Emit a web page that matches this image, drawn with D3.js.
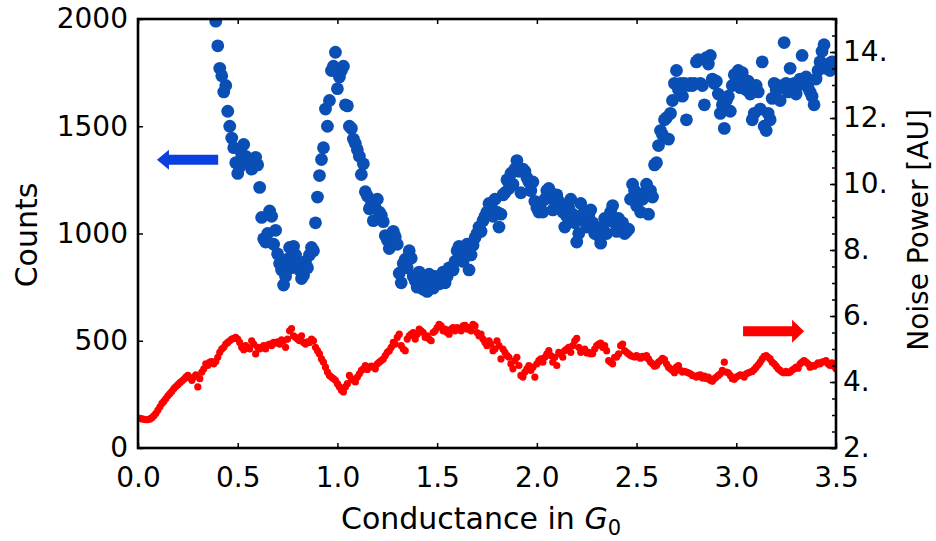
<!DOCTYPE html>
<html><head><meta charset="utf-8">
<script src="https://cdn.jsdelivr.net/npm/d3@7/dist/d3.min.js"></script>
<style>body{margin:0;background:#fff} svg{display:block}</style>
</head><body><svg id="c" width="936" height="541"></svg>
<script>
// ---- data ----
const countsStart = 0.39, countsStep = 0.01;
const counts = [
 1990,1875,1770,1735,1660,1690,1570,1500,1445,1400,
 1330,1280,1310,1370,1415,1360,1350,1330,1300,1340,
 1355,1320,1215,1075,975,960,1000,1105,1080,950,
 1015,905,860,830,760,800,880,935,840,940,
 900,860,830,790,805,870,840,900,935,920,
 1050,1170,1270,1345,1400,1580,1500,1620,1760,1780,
 1845,1675,1730,1760,1780,1600,1595,1500,1490,1440,
 1420,1390,1360,1275,1325,1195,1175,1115,1150,1060,
 1120,1160,1100,1085,1055,990,970,930,985,1010,
 985,950,815,770,860,880,840,920,885,800,
 780,750,820,760,740,790,730,810,780,745,
 800,770,765,790,820,770,800,840,830,830,
 870,920,940,890,870,900,950,830,900,945,
 980,1000,1030,1010,1060,1080,1100,1140,1130,1080,
 1160,1100,1030,1090,1180,1190,1250,1210,1280,1230,
 1300,1340,1290,1190,1300,1290,1260,1240,1200,1240,
 1150,1120,1100,1140,1100,1160,1200,1210,1190,1110,
 1150,1180,1150,1120,1100,1030,1080,1120,1160,1090,
 1050,960,1000,1140,1090,1060,1030,1080,1110,1050,
 1000,1020,990,955,1030,1070,1000,1060,1100,1130,
 1050,1010,1070,1040,1050,1000,1010,1020,1160,1230,
 1200,1130,1150,1100,1160,1190,1230,1090,1200,1170,
 1320,1330,1410,1480,1460,1530,1540,1440,1560,1620,
 1700,1760,1670,1700,1640,1700,1530,1690,1700,1690,
 1700,1800,1810,1700,1690,1600,1820,1790,1830,1720,
 1700,1710,1650,1560,1600,1490,1620,1640,1570,1690,
 1740,1700,1760,1680,1750,1700,1670,1710,1650,1530,
 1560,1690,1660,1580,1800,1500,1480,1560,1530,1630,
 1700,1670,1690,1620,1680,1890,1700,1660,1770,1680,
 1700,1650,1690,1720,1830,1700,1730,1680,1660,1640,
 1600,1720,1760,1800,1850,1880,1770,1790,1760,1800
];
const noiseStart = 0.00, noiseStep = 0.01;
const noise = [
 2.90,2.90,2.88,2.87,2.86,2.86,2.88,2.92,2.98,3.05,
 3.15,3.25,3.35,3.42,3.50,3.58,3.65,3.72,3.80,3.86,
 3.92,3.98,4.03,4.08,4.15,4.20,4.12,4.05,4.15,4.22,
 3.85,4.10,4.30,4.40,4.55,4.50,4.60,4.62,4.55,4.62,
 4.75,4.90,5.00,5.05,5.15,5.20,5.25,5.30,5.32,5.35,
 5.30,5.20,5.05,4.98,5.10,5.05,5.00,5.25,5.15,4.85,
 5.05,5.00,5.05,5.10,5.00,5.12,5.15,5.10,5.20,5.18,
 5.22,5.15,5.28,5.25,5.05,5.30,5.55,5.62,5.40,5.35,
 5.30,5.25,5.40,5.20,5.15,5.22,5.20,5.30,5.25,5.05,
 4.95,4.85,4.70,4.60,4.45,4.30,4.20,4.15,4.10,4.05,
 3.95,3.85,3.75,3.70,3.85,3.95,4.20,4.10,4.05,4.00,
 4.15,4.25,4.35,4.40,4.50,4.38,4.45,4.48,4.46,4.40,
 4.55,4.60,4.65,4.70,4.80,4.90,4.95,5.05,5.20,5.15,
 5.35,5.45,5.10,5.00,4.95,5.30,5.40,5.45,5.50,5.30,
 5.45,5.60,5.55,5.50,5.35,5.40,5.30,5.25,5.50,5.55,
 5.65,5.75,5.70,5.55,5.60,5.50,5.45,5.60,5.65,5.55,
 5.65,5.60,5.55,5.70,5.72,5.60,5.65,5.55,5.75,5.70,
 5.50,5.40,5.45,5.30,5.20,5.10,5.25,5.15,4.95,5.00,
 5.25,5.10,4.70,5.00,4.90,4.80,4.75,4.55,4.40,4.65,
 4.75,4.50,4.20,4.15,4.30,4.40,4.50,4.35,4.45,4.15,
 4.55,4.65,4.70,4.60,4.75,4.85,4.95,4.80,4.60,4.75,
 4.50,4.90,4.85,4.75,4.95,5.00,5.05,4.90,5.10,5.25,
 5.32,5.05,4.90,4.95,5.00,4.88,4.90,4.85,4.86,5.00,
 5.10,5.15,5.18,5.05,5.10,4.95,4.65,4.60,4.55,4.75,
 4.76,4.85,5.10,5.15,4.95,4.90,4.85,4.80,4.78,4.76,
 4.80,4.76,4.72,4.78,4.75,4.80,4.70,4.60,4.55,4.48,
 4.50,4.60,4.65,4.72,4.68,4.55,4.45,4.40,4.35,4.28,
 4.45,4.50,4.35,4.30,4.32,4.30,4.28,4.25,4.20,4.18,
 4.15,4.20,4.22,4.12,4.18,4.10,4.15,4.05,4.02,4.10,
 4.15,4.20,4.25,4.35,4.60,4.30,4.28,4.20,4.10,4.08,
 4.15,4.18,4.22,4.20,4.15,4.25,4.28,4.30,4.32,4.38,
 4.45,4.52,4.60,4.70,4.78,4.80,4.75,4.70,4.60,4.55,
 4.48,4.40,4.35,4.30,4.28,4.32,4.28,4.30,4.36,4.40,
 4.45,4.42,4.55,4.60,4.65,4.60,4.55,4.45,4.50,4.48,
 4.52,4.58,4.55,4.60,4.62,4.65,4.55,4.50,4.58,4.48,
 4.40
];
const xTicks = [0, 0.5, 1, 1.5, 2, 2.5, 3, 3.5];
const countTicks = [0, 500, 1000, 1500, 2000];
const noiseTicks = [2, 4, 6, 8, 10, 12, 14];
const noiseMinorTicks = d3.range(2, 15.01, 0.5);
const xLabel = "Conductance in ", xLabelSym = "G", xLabelSub = "0";
const yLabelLeft = "Counts", yLabelRight = "Noise Power [AU]";
// annotation arrows (data coordinates)
const blueArrow = {from: 0.402, to: 0.095, y: 1344};
const redArrow = {from: 3.034, to: 3.340, y: 5.54};

// ---- layout ----
const L = 138, R = 836, T = 19, B = 448;
const FONT = "'DejaVu Sans', sans-serif";
const BLUE = "#0a4fb5", RED = "#ff0000";

const svg = d3.select("#c");
const x = d3.scaleLinear().domain([0, 3.5]).range([L, R]);
const yL = d3.scaleLinear().domain([0, 2000]).range([B, T]);
const yR = d3.scaleLinear().domain([2, 15]).range([B, T]);

svg.append("defs").append("clipPath").attr("id", "clip")
  .append("rect").attr("x", L).attr("y", T).attr("width", R - L).attr("height", B - T);

const plot = svg.append("g").attr("clip-path", "url(#clip)");

plot.selectAll("circle.n").data(noise).join("circle")
  .attr("class", "n")
  .attr("cx", (d, i) => x(noiseStart + i * noiseStep))
  .attr("cy", d => yR(d))
  .attr("r", 3.6).attr("fill", RED);

plot.selectAll("circle.c").data(counts).join("circle")
  .attr("class", "c")
  .attr("cx", (d, i) => x(countsStart + i * countsStep))
  .attr("cy", d => yL(d))
  .attr("r", 6.4).attr("fill", BLUE);

// axes with inward ticks
function styleAxis(g) {
  g.select(".domain").remove();
  g.selectAll("text").attr("font-family", FONT).attr("font-size", 28).attr("fill", "#000");
  g.selectAll("line").attr("stroke", "#000").attr("stroke-width", 1.5);
}
svg.append("g").attr("transform", `translate(0,${B})`)
  .call(d3.axisBottom(x).tickValues(xTicks).tickFormat(d3.format(".1f")).tickSize(-5).tickPadding(19))
  .call(styleAxis);
svg.append("g").attr("transform", `translate(0,${T})`)
  .call(d3.axisTop(x).tickValues(xTicks).tickFormat("").tickSize(-5))
  .call(styleAxis);
svg.append("g").attr("transform", `translate(${L},0)`)
  .call(d3.axisLeft(yL).tickValues(countTicks).tickFormat(d3.format("d")).tickSize(-5).tickPadding(10))
  .call(styleAxis);
svg.append("g").attr("transform", `translate(${R},0)`)
  .call(d3.axisRight(yR).tickValues(noiseMinorTicks).tickFormat("").tickSize(-4))
  .call(styleAxis);
svg.append("g").attr("transform", `translate(${R},0)`)
  .call(d3.axisRight(yR).tickValues(noiseTicks).tickFormat(d => d + ".").tickSize(-6).tickPadding(7))
  .call(styleAxis);

// frame
svg.append("rect").attr("x", L).attr("y", T).attr("width", R - L).attr("height", B - T)
  .attr("fill", "none").attr("stroke", "#000").attr("stroke-width", 2.6);

// arrows
function arrow(x0, x1, yc, color, shaftH, headH, headL) {
  const dir = Math.sign(x1 - x0);
  const hb = x1 - dir * headL;
  const pts = [[x0, yc - shaftH], [hb, yc - shaftH], [hb, yc - headH], [x1, yc],
               [hb, yc + headH], [hb, yc + shaftH], [x0, yc + shaftH]];
  svg.append("path").attr("d", d3.line()(pts) + "Z").attr("fill", color);
}
arrow(x(blueArrow.from), x(blueArrow.to), yL(blueArrow.y), "#0a3fe0", 5, 10, 12);
arrow(x(redArrow.from), x(redArrow.to), yR(redArrow.y), RED, 5, 11.5, 12);

// titles
const xt = svg.append("text").attr("x", 481).attr("y", 529).attr("text-anchor", "middle")
  .attr("font-family", FONT).attr("font-size", 30).attr("fill", "#000");
xt.append("tspan").text(xLabel);
xt.append("tspan").attr("font-style", "italic").text(xLabelSym);
xt.append("tspan").attr("font-size", 21).attr("dy", 6).text(xLabelSub);

svg.append("text").attr("transform", "translate(37,235) rotate(-90)")
  .attr("text-anchor", "middle").attr("font-family", FONT).attr("font-size", 30)
  .attr("fill", "#000").text(yLabelLeft);
svg.append("text").attr("transform", "translate(928,230) rotate(-90)")
  .attr("text-anchor", "middle").attr("font-family", FONT).attr("font-size", 28)
  .attr("fill", "#000").text(yLabelRight);
</script></body></html>
